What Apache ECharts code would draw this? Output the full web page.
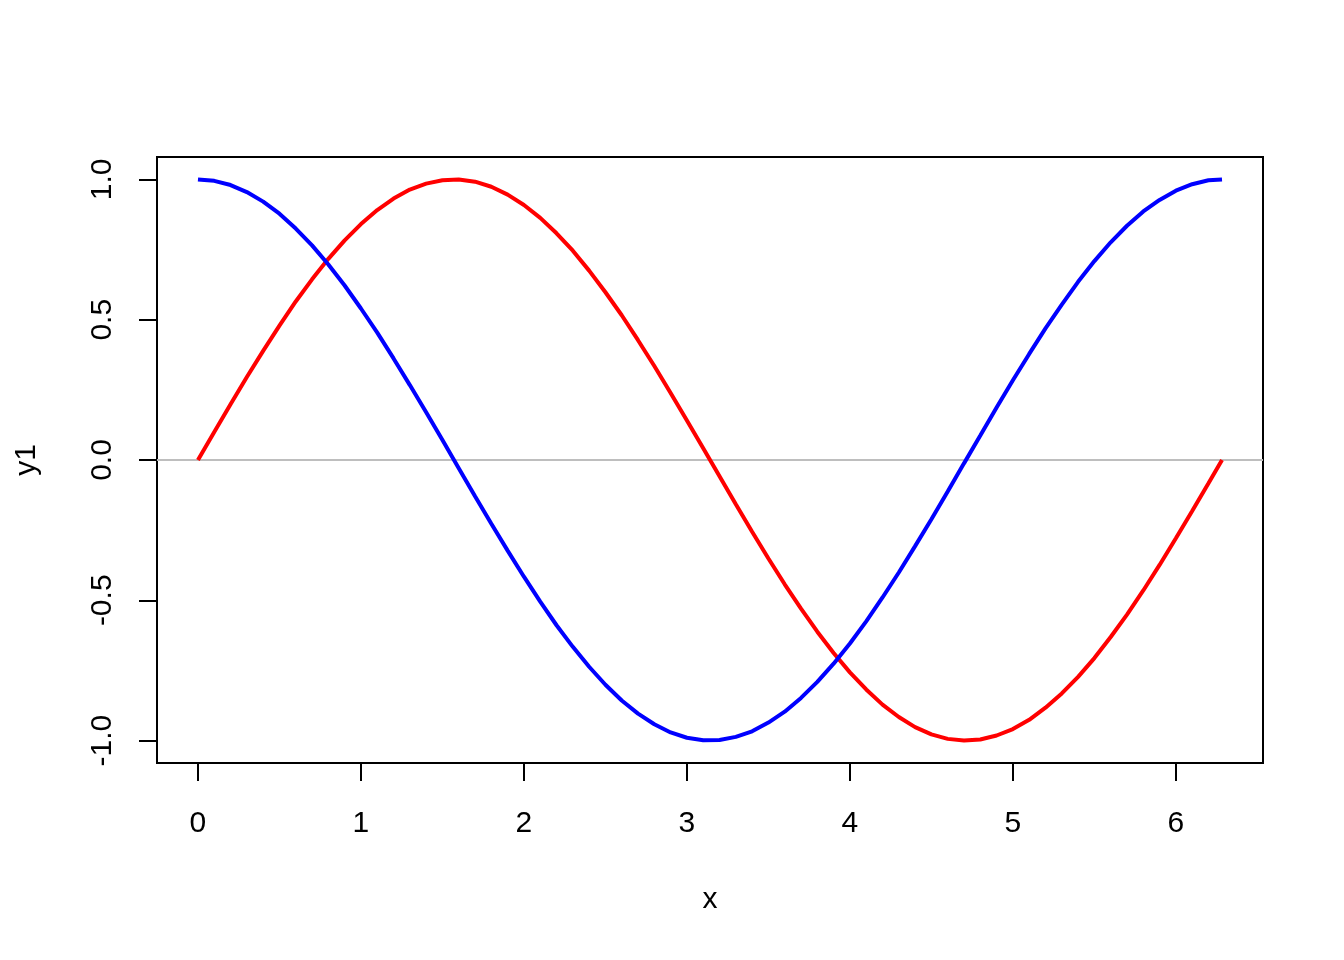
<!DOCTYPE html>
<html>
<head>
<meta charset="utf-8">
<script src="https://cdn.jsdelivr.net/npm/echarts@6/dist/echarts.min.js"></script>
<style>
html,body{margin:0;padding:0;background:#fff;}
#chart{width:1344px;height:960px;}
</style>
</head>
<body>
<div id="chart"></div>
<script>
// x values (0 .. 2*pi)
var xValues = [0.0,0.1,0.2,0.3,0.4,0.5,0.6,0.7,0.8,0.9,1.0,1.1,1.2,1.3,1.4,1.5,1.6,1.7,1.8,1.9,
  2.0,2.1,2.2,2.3,2.4,2.5,2.6,2.7,2.8,2.9,3.0,3.1,3.2,3.3,3.4,3.5,3.6,3.7,3.8,3.9,
  4.0,4.1,4.2,4.3,4.4,4.5,4.6,4.7,4.8,4.9,5.0,5.1,5.2,5.3,5.4,5.5,5.6,5.7,5.8,5.9,
  6.0,6.1,6.2,6.283];
// red curve (y1)
var y1Values = [0.000,0.100,0.199,0.296,0.389,0.479,0.565,0.644,0.717,0.783,0.841,0.891,0.932,0.964,0.985,0.997,1.000,0.992,0.974,0.946,
  0.909,0.863,0.808,0.746,0.675,0.598,0.516,0.427,0.335,0.239,0.141,0.042,-0.058,-0.158,-0.256,-0.351,-0.443,-0.530,-0.612,-0.688,
  -0.757,-0.818,-0.872,-0.916,-0.952,-0.978,-0.994,-1.000,-0.996,-0.982,-0.959,-0.926,-0.883,-0.832,-0.773,-0.706,-0.631,-0.551,-0.465,-0.374,
  -0.279,-0.182,-0.083,0.000];
// blue curve (y2)
var y2Values = [1.000,0.995,0.980,0.955,0.921,0.878,0.825,0.765,0.697,0.622,0.540,0.454,0.362,0.267,0.170,0.071,-0.029,-0.129,-0.227,-0.323,
  -0.416,-0.505,-0.589,-0.666,-0.737,-0.801,-0.857,-0.904,-0.942,-0.971,-0.990,-0.999,-0.998,-0.987,-0.967,-0.936,-0.897,-0.848,-0.791,-0.726,
  -0.654,-0.575,-0.490,-0.401,-0.307,-0.211,-0.112,-0.012,0.087,0.187,0.284,0.378,0.469,0.554,0.635,0.709,0.776,0.835,0.886,0.927,
  0.960,0.983,0.997,1.000];
var xTicks = [0,1,2,3,4,5,6];
var yTicks = [-1.0,-0.5,0.0,0.5,1.0];
var refLineY = 0;

function zip(xs, ys){ return xs.map(function(x,i){ return [x, ys[i]]; }); }

var FONT = 'Liberation Sans, Arial, sans-serif';
var chart = echarts.init(document.getElementById('chart'), null, {renderer:'canvas'});
chart.setOption({
  animation:false,
  backgroundColor:'#ffffff',
  grid:{left:157,right:81,top:157,bottom:197,show:true,borderColor:'#000',borderWidth:2,backgroundColor:'transparent'},
  xAxis:{
    type:'value', min:-0.25133, max:6.53451,
    name:'x', nameLocation:'middle', nameGap:122,
    nameTextStyle:{fontFamily:FONT,fontSize:30,color:'#000'},
    splitLine:{show:false},
    axisLine:{show:false,onZero:false},
    axisTick:{show:true,customValues:xTicks,length:18,lineStyle:{color:'#000',width:2}},
    axisLabel:{customValues:xTicks,margin:46,fontFamily:FONT,fontSize:30,color:'#000'}
  },
  yAxis:{
    type:'value', min:-1.08, max:1.08,
    name:'y1', nameLocation:'middle', nameGap:115, nameRotate:90,
    nameTextStyle:{fontFamily:FONT,fontSize:30,color:'#000'},
    splitLine:{show:false},
    axisLine:{show:false,onZero:false},
    axisTick:{show:true,customValues:yTicks,length:18,lineStyle:{color:'#000',width:2}},
    axisLabel:{customValues:yTicks,margin:39,rotate:90,fontFamily:FONT,fontSize:30,color:'#000',
      formatter:function(v){ return v.toFixed(1); }}
  },
  series:[
    {type:'line', data:zip(xValues,y1Values), showSymbol:false, symbol:'none',
      lineStyle:{color:'#FF0000',width:4}, z:3,
      markLine:{silent:true,symbol:'none',z:1,label:{show:false},
        lineStyle:{color:'#BEBEBE',width:2,type:'solid'},
        data:[{yAxis:refLineY}]}},
    {type:'line', data:zip(xValues,y2Values), showSymbol:false, symbol:'none',
      lineStyle:{color:'#0000FF',width:4}, z:4}
  ]
});
</script>
</body>
</html>
